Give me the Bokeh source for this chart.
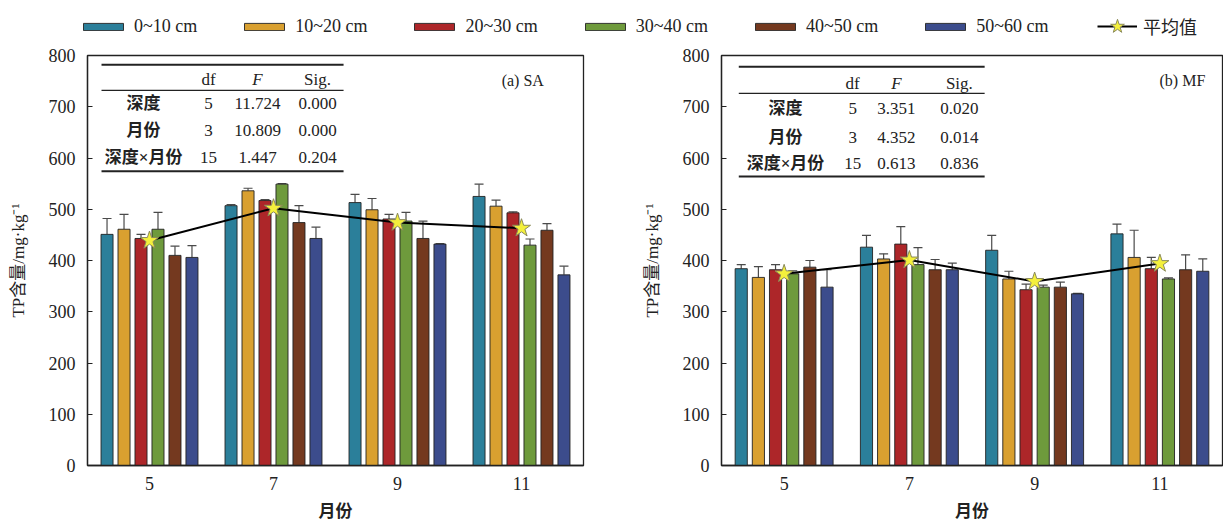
from bokeh.plotting import figure
from bokeh.models import (FixedTicker, Legend, LegendItem, Whisker, TeeHead,
                          ColumnDataSource)
from bokeh.layouts import column, row
from bokeh.embed import file_html
from bokeh.resources import INLINE
from bokeh.core.properties import value

# ---------------- data ----------------
months = ["5", "7", "9", "11"]
depths = ["0~10 cm", "10~20 cm", "20~30 cm", "30~40 cm", "40~50 cm", "50~60 cm"]
colors = ["#2b7f9a", "#d9a030", "#ad2629", "#6e9a3c", "#74391f", "#3c4c8c"]

# (a) SA : mean TP per depth across months 5,7,9,11 and upper error (sd)
sa_0_10 = [451, 507, 513, 525]
sa_10_20 = [461, 536, 499, 506]
sa_20_30 = [443, 517, 481, 493]
sa_30_40 = [461, 549, 477, 430]
sa_40_50 = [410, 474, 443, 459]
sa_50_60 = [406, 443, 432, 372]
sa_err_0_10 = [31, 2, 16, 24]
sa_err_10_20 = [29, 5, 22, 12]
sa_err_20_30 = [8, 2, 9, 2]
sa_err_30_40 = [33, 1, 17, 12]
sa_err_40_50 = [18, 33, 34, 13]
sa_err_50_60 = [23, 22, 1, 17]
sa_mean = [439, 502, 474, 463]

# (b) MF
mf_0_10 = [384, 426, 420, 452]
mf_10_20 = [367, 403, 364, 406]
mf_20_30 = [382, 432, 343, 384]
mf_30_40 = [374, 392, 348, 364]
mf_40_50 = [387, 382, 348, 382]
mf_50_60 = [348, 382, 335, 379]
mf_err_0_10 = [8, 23, 29, 19]
mf_err_10_20 = [21, 10, 15, 53]
mf_err_20_30 = [10, 34, 11, 22]
mf_err_30_40 = [6, 33, 4, 2]
mf_err_40_50 = [13, 20, 10, 29]
mf_err_50_60 = [34, 13, 1, 24]
mf_mean = [374, 401, 359, 394]

# ANOVA tables
tab_rows = ["深度", "月份", "深度×月份"]
tab_head = ["df", "F", "Sig."]
sa_df = ["5", "3", "15"]
sa_F = ["11.724", "10.809", "1.447"]
sa_sig = ["0.000", "0.000", "0.204"]
mf_df = ["5", "3", "15"]
mf_F = ["3.351", "4.352", "0.613"]
mf_sig = ["0.020", "0.014", "0.836"]

SERIF = "Liberation Serif, Noto Sans CJK SC"
INK = "#222222"
STAR_FILL = "#f4f03c"
STAR_LINE = "#8a8a5a"


def make_panel(vals, errs, mean, df, F, sig, tag, width, bl, br, tab):
    p = figure(width=width, height=480, x_range=(0.5, 4.5), y_range=(0, 800),
               toolbar_location=None, output_backend="svg",
               min_border_left=bl, min_border_right=br,
               min_border_top=10, min_border_bottom=60)
    p.grid.visible = False
    p.background_fill_color = "white"
    p.outline_line_color = INK
    p.outline_line_width = 1.3
    pitch, bw = 0.137, 0.097
    xs = [1, 2, 3, 4]
    for i, (v, e) in enumerate(zip(vals, errs)):
        off = (i - 2.5) * pitch
        src = ColumnDataSource(dict(x=[x + off for x in xs], top=v,
                                    up=[a + b for a, b in zip(v, e)]))
        w = Whisker(source=src, base="x", lower="top", upper="up",
                    line_color="#4a4a4a", line_width=1.2, lower_head=None,
                    upper_head=TeeHead(size=9, line_color="#4a4a4a", line_width=1.2),
                    level="underlay")
        p.add_layout(w)
        p.vbar(x="x", top="top", width=bw, source=src, fill_color=colors[i],
               line_color=INK, line_width=0.9)
    p.line(xs, mean, line_color="black", line_width=2)
    p.scatter(xs, mean, marker="star", size=19, fill_color=STAR_FILL,
              line_color=STAR_LINE, line_width=1)

    # axes
    p.yaxis.ticker = FixedTicker(ticks=list(range(0, 801, 100)))
    p.yaxis.major_tick_in = 5
    p.yaxis.major_tick_out = 0
    p.yaxis.minor_tick_line_color = None
    p.yaxis.major_label_standoff = 12
    p.yaxis.axis_label = "TP含量/mg·kg⁻¹"
    p.yaxis.axis_label_standoff = 18
    p.xaxis.ticker = FixedTicker(ticks=xs)
    p.xaxis.major_label_overrides = {x: m for x, m in zip(xs, months)}
    p.xaxis.major_tick_in = 0
    p.xaxis.major_tick_out = 0
    p.xaxis.minor_tick_line_color = None
    p.xaxis.major_label_standoff = 11
    p.xaxis.axis_label = "月份"
    p.xaxis.axis_label_standoff = 9
    for ax in (p.xaxis, p.yaxis):
        ax.axis_line_color = INK
        ax.axis_line_width = 1.3
        ax.major_tick_line_color = INK
        ax.major_label_text_font = SERIF
        ax.major_label_text_font_size = "18px"
        ax.major_label_text_color = INK
        ax.axis_label_text_font = SERIF
        ax.axis_label_text_font_size = "17px"
        ax.axis_label_text_color = INK
    p.xaxis.axis_label_text_font_style = "bold"
    p.yaxis.axis_label_text_font_style = "normal"

    # table
    x0, x1, cols, ylines, yhead, yrows, tagx = tab
    p.segment(x0=[x0] * 3, x1=[x1] * 3, y0=ylines, y1=ylines,
              line_color=INK, line_width=[2, 1.2, 2])
    p.text(x=cols[1:], y=[yhead] * 3, text=tab_head, text_font=value(SERIF),
           text_font_size="17px", text_align="center", text_baseline="middle",
           text_color=INK, text_font_style=["normal", "italic", "normal"])
    p.text(x=[cols[0]] * 3, y=yrows, text=tab_rows, text_font=value(SERIF),
           text_font_size="17px", text_align="center", text_baseline="middle",
           text_color=INK, text_font_style="bold")
    for c, col in zip(cols[1:], (df, F, sig)):
        p.text(x=[c] * 3, y=yrows, text=col, text_font=value(SERIF),
               text_font_size="17px", text_align="center", text_baseline="middle",
               text_color=INK)
    p.text(x=[tagx], y=[751], text=[tag], text_font=value(SERIF),
           text_font_size="16px", text_align="center", text_baseline="middle",
           text_color=INK)
    return p


tab_a = (0.613, 2.565, [0.952, 1.476, 1.871, 2.355], [782, 732, 574], 753,
         [706, 654, 601], 4.01)
tab_b = (0.638, 2.601, [1.011, 1.547, 1.896, 2.399], [778, 726, 564], 745,
         [697, 640, 589], 4.18)

p1 = make_panel([sa_0_10, sa_10_20, sa_20_30, sa_30_40, sa_40_50, sa_50_60],
                [sa_err_0_10, sa_err_10_20, sa_err_20_30, sa_err_30_40, sa_err_40_50, sa_err_50_60],
                sa_mean, sa_df, sa_F, sa_sig, "(a) SA", 637, 87, 54, tab_a)
p2 = make_panel([mf_0_10, mf_10_20, mf_20_30, mf_30_40, mf_40_50, mf_50_60],
                [mf_err_0_10, mf_err_10_20, mf_err_20_30, mf_err_30_40, mf_err_40_50, mf_err_50_60],
                mf_mean, mf_df, mf_F, mf_sig, "(b) MF", 586, 84, 1, tab_b)

# legend strip (dummy renderers placed outside the visible range)
lf = figure(width=1223, height=45, x_range=(0, 1), y_range=(0, 1),
            toolbar_location=None, output_backend="svg", min_border=0)
lf.axis.visible = False
lf.grid.visible = False
lf.outline_line_color = None
items = []
for d, c in zip(depths, colors):
    r = lf.vbar(x=[-10], top=[-10], width=0.1, fill_color=c, line_color=INK,
                line_width=0.9)
    items.append(LegendItem(label=d, renderers=[r]))
leg_style = dict(orientation="horizontal", padding=0, margin=0,
                 border_line_color=None, background_fill_alpha=0,
                 label_text_font=SERIF, label_text_font_size="18px",
                 label_text_color=INK, label_standoff=6)
leg = Legend(items=items, location=(78, 8), glyph_width=50, glyph_height=9,
             label_height=9, spacing=42, **leg_style)
lf.add_layout(leg)
rl = lf.line(x=[-10, -11], y=[-10, -10], line_color="black", line_width=2)
rs = lf.scatter(x=[-10], y=[-10], marker="star", size=16, fill_color=STAR_FILL,
                line_color=STAR_LINE)
leg2 = Legend(items=[LegendItem(label="平均值", renderers=[rl, rs])],
              location=(1097, 1), glyph_width=40, glyph_height=36,
              label_height=9, **leg_style)
lf.add_layout(leg2)

layout = column(lf, row(p1, p2, spacing=0), spacing=0)
open("out.html", "w").write(file_html(layout, INLINE))
